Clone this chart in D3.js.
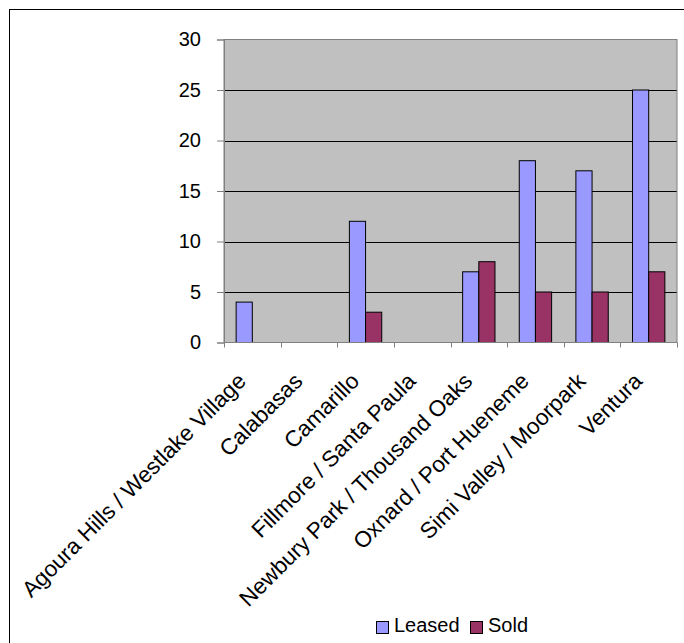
<!DOCTYPE html>
<html>
<head>
<meta charset="utf-8">
<script src="https://cdn.jsdelivr.net/npm/d3@7"></script>
<style>
  html, body { margin: 0; padding: 0; background: #fff; }
  svg { display: block; }
  text { font-family: "Liberation Sans", Arial, sans-serif; fill: #000; }
</style>
</head>
<body>
<svg id="chart" width="684" height="643"></svg>
<script>
// Listings by area
const categories = [
  "Agoura Hills / Westlake Village",
  "Calabasas",
  "Camarillo",
  "Fillmore / Santa Paula",
  "Newbury Park / Thousand Oaks",
  "Oxnard / Port Hueneme",
  "Simi Valley / Moorpark",
  "Ventura"
];
const leased = [4, 0, 12, 0, 7, 18, 17, 25];
const sold   = [0, 0, 3, 0, 8, 5, 5, 7];
const seriesNames = ["Leased", "Sold"];
const seriesColors = ["#9999FF", "#993366"];
const yTicks = [0, 5, 10, 15, 20, 25, 30];

const svg = d3.select("#chart");

// outer chart frame (runs past the right and bottom edges)
svg.append("rect")
  .attr("x", 9.5).attr("y", 9.5)
  .attr("width", 720).attr("height", 720)
  .attr("fill", "#fff").attr("stroke", "#000").attr("stroke-width", 1);

const plot = { left: 224, right: 677, top: 39.5, bottom: 342.5 };

const x = d3.scaleBand()
  .domain(categories)
  .range([plot.left, plot.right])
  .paddingInner(0).paddingOuter(0);

// bars sit in the middle of each category with a 150% gap
const groupW = x.bandwidth() * 2 / 3.5;
const xs = d3.scaleBand()
  .domain(seriesNames)
  .range([(x.bandwidth() - groupW) / 2, (x.bandwidth() + groupW) / 2]);

const y = d3.scaleLinear().domain([0, 30]).range([plot.bottom, plot.top]);

// plot area
svg.append("rect")
  .attr("x", plot.left).attr("y", plot.top)
  .attr("width", plot.right - plot.left).attr("height", plot.bottom - plot.top)
  .attr("fill", "#C0C0C0");

// horizontal gridlines
svg.append("g")
  .selectAll("line")
  .data(yTicks.filter(d => d > 0 && d < 30))
  .join("line")
  .attr("x1", plot.left).attr("x2", plot.right)
  .attr("y1", d => Math.round(y(d)) + 0.5).attr("y2", d => Math.round(y(d)) + 0.5)
  .attr("stroke", "#000").attr("stroke-width", 1);

// plot area border
svg.append("rect")
  .attr("x", plot.left).attr("y", plot.top)
  .attr("width", plot.right - plot.left).attr("height", plot.bottom - plot.top)
  .attr("fill", "none").attr("stroke", "#808080").attr("stroke-width", 1);

// bars
const rows = categories.map((c, i) => ({ cat: c, values: [leased[i], sold[i]] }));
const groups = svg.append("g")
  .selectAll("g")
  .data(rows)
  .join("g")
  .attr("transform", d => `translate(${x(d.cat)},0)`);

groups.selectAll("rect")
  .data(d => d.values.map((v, j) => ({ name: seriesNames[j], v, color: seriesColors[j] })).filter(e => e.v > 0))
  .join("rect")
  .attr("x", d => xs(d.name))
  .attr("y", d => y(d.v))
  .attr("width", xs.bandwidth())
  .attr("height", d => y(0) - y(d.v))
  .attr("fill", d => d.color)
  .attr("stroke", "#000")
  .attr("stroke-width", 1);

// y axis
const yAxis = d3.axisLeft(y)
  .tickValues(yTicks)
  .tickSize(7)
  .tickPadding(16)
  .tickFormat(d3.format("d"));
const gy = svg.append("g")
  .attr("transform", `translate(${plot.left},0)`)
  .call(yAxis);
gy.select(".domain").attr("stroke", "#808080");
gy.selectAll(".tick line").attr("stroke", "#808080");
gy.selectAll(".tick text")
  .attr("font-size", 20)
  .attr("font-family", "'Liberation Sans', Arial, sans-serif")
  .attr("fill", "#000");

// x axis: ticks on category boundaries
const boundaries = categories.map(c => x(c)).concat([plot.right]);
const gx = svg.append("g");
gx.append("line")
  .attr("x1", plot.left).attr("x2", plot.right)
  .attr("y1", plot.bottom).attr("y2", plot.bottom)
  .attr("stroke", "#808080");
gx.selectAll("line.tk")
  .data(boundaries)
  .join("line")
  .attr("class", "tk")
  .attr("x1", d => Math.round(d) + 0.5).attr("x2", d => Math.round(d) + 0.5)
  .attr("y1", plot.bottom).attr("y2", plot.bottom + 5)
  .attr("stroke", "#808080");

// rotated category labels
gx.selectAll("text")
  .data(categories)
  .join("text")
  .attr("transform", d => `translate(${x(d) + x.bandwidth() / 2 - 5},${plot.bottom + 40}) rotate(-45)`)
  .attr("text-anchor", "end")
  .attr("font-size", 22.5)
  .text(d => d);

// legend
const legend = svg.append("g").attr("transform", "translate(376,621)");
const legendX = [0, 94];
const items = legend.selectAll("g")
  .data(seriesNames)
  .join("g")
  .attr("transform", (d, i) => `translate(${legendX[i]},0)`);
items.append("rect")
  .attr("x", 0.5).attr("y", 0.5)
  .attr("width", 12).attr("height", 12)
  .attr("fill", (d, i) => seriesColors[i])
  .attr("stroke", "#000");
items.append("text")
  .attr("x", 18).attr("y", 11)
  .attr("font-size", 20)
  .text(d => d);
</script>
</body>
</html>
